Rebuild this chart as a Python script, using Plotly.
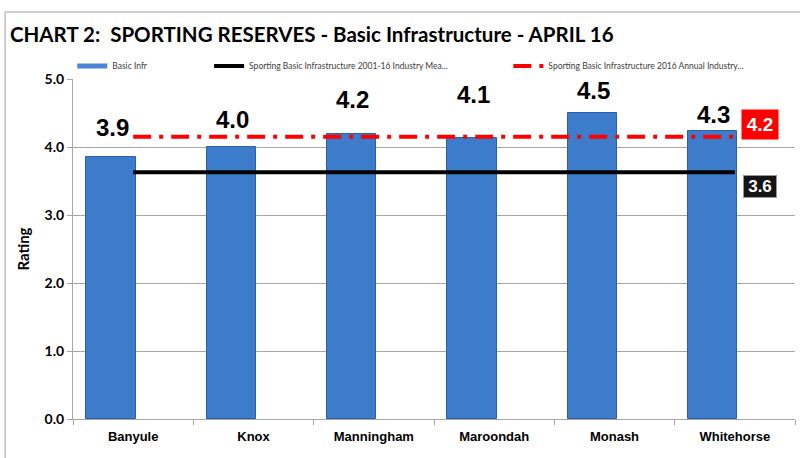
import plotly.graph_objects as go

# data
councils = ["Banyule", "Knox", "Manningham", "Maroondah", "Monash", "Whitehorse"]
basic_infr = [3.86, 4.00, 4.19, 4.13, 4.50, 4.24]
industry_mean_2001_16 = [3.63, 3.63, 3.63, 3.63, 3.63, 3.63]
industry_annual_2016 = [4.15, 4.15, 4.15, 4.15, 4.15, 4.15]
bar_labels = ["3.9", "4.0", "4.2", "4.1", "4.5", "4.3"]
mean_label = "3.6"
annual_label = "4.2"

# how far each value label sits above its bar (px), as placed by hand in the original
label_lift = [27, 26, 33, 42, 21, 14]

CALIBRI = "Lato, 'Open Sans', sans-serif"
ARIAL = "'Liberation Sans', Arial, sans-serif"
GRID = "#a6a6a6"

fig = go.Figure()

fig.add_trace(go.Bar(
    x=councils, y=basic_infr,
    width=0.41, offset=-0.39,
    marker=dict(color="#3d7bcb", line=dict(color="#2c5fa8", width=1)),
    showlegend=False, hoverinfo="skip",
))
# legend-only entry so the swatch looks like the thin bar swatch in the original
fig.add_trace(go.Scatter(
    x=[None], y=[None], mode="lines", name="Basic Infr",
    line=dict(color="#4a86d4", width=5), legend="legend",
))
fig.add_trace(go.Scatter(
    x=councils, y=industry_mean_2001_16, mode="lines",
    name="Sporting Basic Infrastructure 2001-16 Industry Mea...",
    line=dict(color="black", width=4), legend="legend2",
))
fig.add_trace(go.Scatter(
    x=councils, y=industry_annual_2016, mode="lines",
    name="Sporting Basic Infrastructure 2016 Annual Industry...",
    line=dict(color="#ff0000", width=4, dash="18px,8px,4px,8px"), legend="legend3",
))

for name, val, txt, lift in zip(councils, basic_infr, bar_labels, label_lift):
    fig.add_annotation(
        x=name, y=val, text=txt, showarrow=False,
        xshift=-21, yshift=lift + 2, yanchor="middle",
        font=dict(family=ARIAL, size=24, color="black", weight="bold"),
    )

fig.add_annotation(
    xref="paper", x=0.9515, xanchor="center", y=industry_annual_2016[-1], yshift=12,
    text=annual_label, showarrow=False, bgcolor="#ff0000",
    borderpad=4, width=28,
    font=dict(family=ARIAL, size=19, color="white", weight="bold"),
)
fig.add_annotation(
    xref="paper", x=0.9515, xanchor="center", y=industry_mean_2001_16[-1], yshift=-14,
    text=mean_label, showarrow=False, bgcolor="#151515",
    bordercolor="#9a9a9a", borderwidth=1, borderpad=1, width=30,
    font=dict(family=ARIAL, size=17, color="white", weight="bold"),
)

# outer chart frame (only its top and left edges fall inside the picture)
fig.add_shape(
    type="rect", xref="paper", yref="paper",
    x0=-0.094, x1=1.2, y0=-0.3, y1=1.197,
    line=dict(color="#bfbfbf", width=1.5), layer="below",
)

legend_style = dict(
    orientation="h", yanchor="middle", xanchor="left", y=1.038,
    font=dict(family=CALIBRI, size=8.5, color="#404040"),
    bgcolor="rgba(0,0,0,0)", itemwidth=30,
)

fig.update_layout(
    width=800, height=458,
    margin=dict(l=73, r=5, t=79, b=39),
    paper_bgcolor="white", plot_bgcolor="white",
    title=dict(
        text="CHART 2:  SPORTING RESERVES - Basic Infrastructure - APRIL 16",
        x=0.0125, xanchor="left", y=0.925, yanchor="middle",
        font=dict(family=CALIBRI, size=20.5, color="black", weight="bold"),
    ),
    legend=dict(legend_style, x=-0.001),
    legend2=dict(legend_style, x=0.1885),
    legend3=dict(legend_style, x=0.603),
    bargap=0,
    xaxis=dict(
        type="category", range=[-0.5, 5.5],
        showline=True, linecolor=GRID, linewidth=1,
        ticks="outside", tickson="boundaries", ticklen=5, tickcolor=GRID,
        ticklabelstandoff=5,
        tickfont=dict(family=ARIAL, size=13, color="black", weight="bold"),
        showgrid=False,
    ),
    yaxis=dict(
        range=[0, 5], dtick=1, tickformat=".1f",
        showline=True, linecolor=GRID, linewidth=1,
        ticks="outside", ticklen=5, tickcolor=GRID,
        gridcolor=GRID, gridwidth=1,
        tickfont=dict(family=CALIBRI, size=14, color="black", weight="bold"),
        title=dict(text="Rating", standoff=11,
                   font=dict(family=CALIBRI, size=15, color="black", weight="bold")),
        zeroline=False,
    ),
)

# the page's default body margin would push the chart 8px right and down
fig.write_html("out.html", config={"displayModeBar": False},
               post_script="document.body.style.margin='0';")
